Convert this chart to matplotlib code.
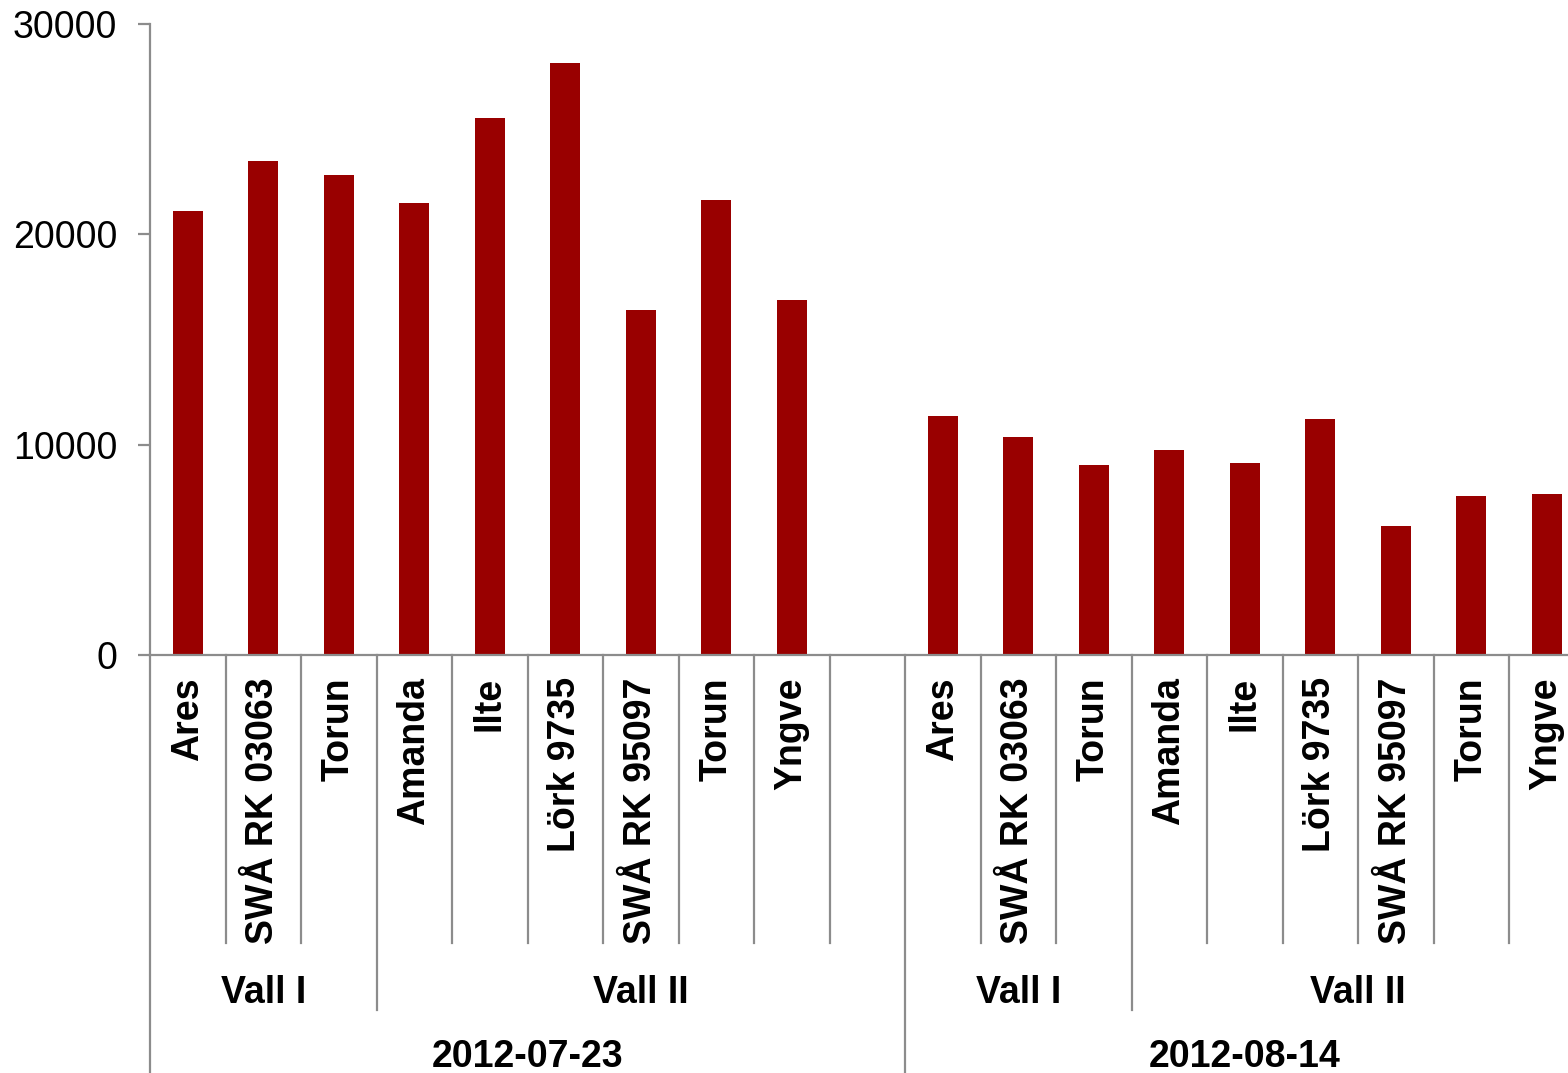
import matplotlib
matplotlib.use("Agg")
import matplotlib.pyplot as plt
import matplotlib.transforms as mtransforms

plt.rcParams['font.family'] = ['Liberation Sans', 'DejaVu Sans']

# Data
sorter = ["Ares", "SWÅ RK 03063", "Torun", "Amanda", "Ilte", "Lörk 9735",
          "SWÅ RK 95097", "Torun", "Yngve"]
values_0723 = [21100, 23500, 22800, 21500, 25550, 28150, 16400, 21650, 16900]
values_0814 = [11350, 10350, 9050, 9750, 9150, 11200, 6150, 7550, 7650]
fields = ["Vall I", "Vall II"]
dates = ["2012-07-23", "2012-08-14"]

bar_color = "#990000"
grid_gray = "#8c8c8c"

# slot positions: 9 bars, one empty slot, 9 bars
x1 = list(range(9))
x2 = [i + 10 for i in range(9)]
n_slots = 19

fig = plt.figure(figsize=(15.68, 10.73), dpi=100)
W, H = 1568, 1073
ax = fig.add_axes([150 / W, (H - 655) / H, n_slots * 75.5 / W, 631 / H])

ax.bar(x1, values_0723, width=0.4, color=bar_color)
ax.bar(x2, values_0814, width=0.4, color=bar_color)

ax.set_xlim(-0.5, n_slots - 0.5)
ax.set_ylim(0, 30000)
ax.set_yticks([0, 10000, 20000, 30000])
ax.tick_params(axis='y', labelsize=27, length=8.6, width=1.6, color=grid_gray, pad=15)

ax.set_xticks(x1 + x2)
ax.set_xticklabels(sorter + sorter, rotation=90, fontsize=27, fontweight='bold', va='top')
ax.tick_params(axis='x', length=0, pad=16)

for s in ['top', 'right']:
    ax.spines[s].set_visible(False)
for s in ['left', 'bottom']:
    ax.spines[s].set_color(grid_gray)
    ax.spines[s].set_linewidth(1.6)

trans = mtransforms.blended_transform_factory(ax.transData, ax.transAxes)
y_lvl1 = -288 / 631
y_lvl2 = -355 / 631
y_lvl3 = -418 / 631

# separators between the category labels
for i in range(1, n_slots):
    b = i - 0.5
    if b == 9.5:
        y_end = y_lvl3
    elif b in (2.5, 12.5):
        y_end = y_lvl2
    else:
        y_end = y_lvl1
    ax.plot([b, b], [0, y_end], transform=trans, color=grid_gray, lw=1.6, clip_on=False)
ax.plot([-0.5, -0.5], [0, y_lvl3], transform=trans, color=grid_gray, lw=1.6, clip_on=False)

# second level labels: fields, third level: dates
groups = [(-0.5, 2.5, 9.5), (9.5, 12.5, 18.5)]
for d, (g0, mid, g1) in zip(dates, groups):
    for name, (a, b) in zip(fields, [(g0, mid), (mid, g1)]):
        ax.text((a + b) / 2, -348 / 631, name, transform=trans, ha='center',
                va='baseline', fontsize=27, fontweight='bold')
    ax.text((g0 + g1) / 2, -412 / 631, d, transform=trans, ha='center',
            va='baseline', fontsize=27, fontweight='bold')

fig.savefig("out.png", dpi=100)
